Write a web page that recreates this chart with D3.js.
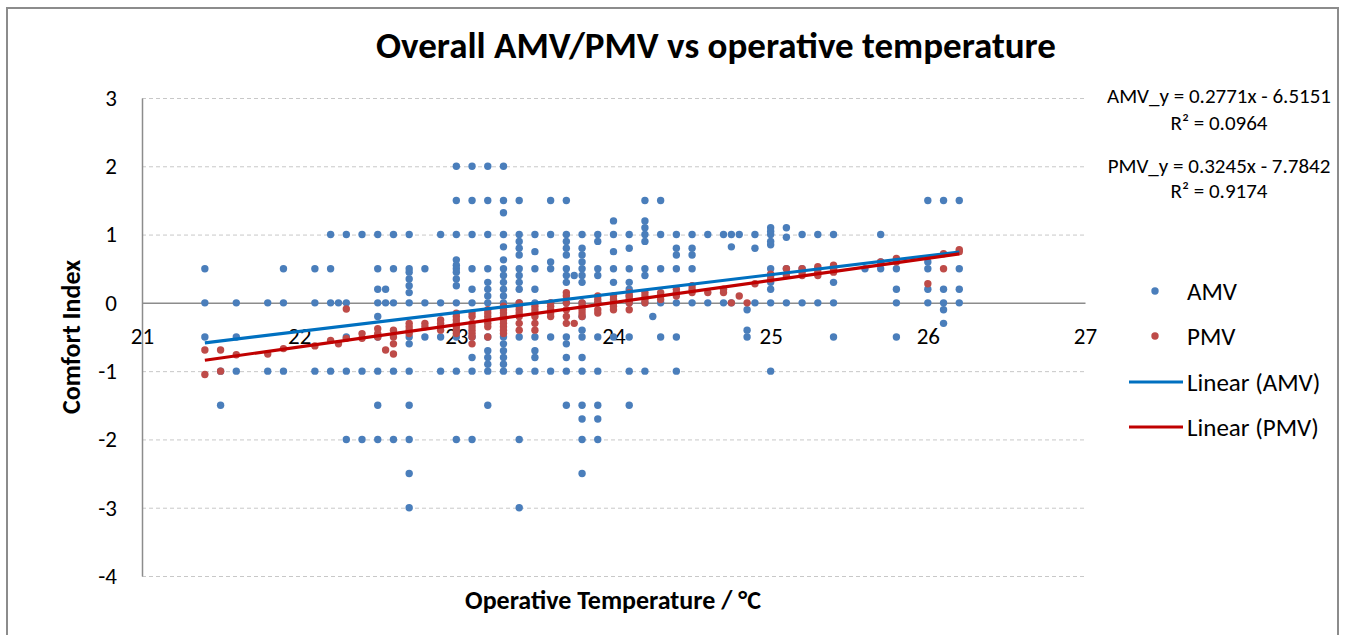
<!DOCTYPE html>
<html>
<head>
<meta charset="utf-8">
<script src="https://cdn.jsdelivr.net/npm/d3@7"></script>
<style>
  body { margin: 0; background: #fff; }
  svg { display: block; font-family: Calibri, Carlito, Lato, sans-serif; }
</style>
</head>
<body>
<div id="chart"></div>
<script>
// AMV votes per operative temperature
const amvData = [
  [21.4, [0.5, 0, -0.5]],
  [21.5, [-1, -1.5]],
  [21.6, [0, -0.5, -1]],
  [21.8, [0, -1]],
  [21.9, [0.5, 0, -1]],
  [22.1, [0.5, 0, -1]],
  [22.2, [1, 0.5, 0, -1]],
  [22.25, [0]],
  [22.3, [1, 0, -0.5, -1, -2]],
  [22.4, [1, -1, -2]],
  [22.5, [1, 0.5, 0.2, 0, -0.2, -0.5, -1, -1.5, -2]],
  [22.55, [0.2, 0]],
  [22.6, [1, 0.5, 0, -1, -2]],
  [22.7, [1, 0.5, 0.45, 0.35, 0.25, 0.15, 0, -0.5, -0.6, -1, -1.5, -2, -2.5, -3]],
  [22.8, [0.5, 0, -0.5]],
  [22.9, [1, 0, -0.5, -1]],
  [23.0, [2, 1.5, 1, 0.63, 0.55, 0.5, 0.45, 0.35, 0.25, 0, -0.5, -1, -2]],
  [23.1, [2, 1.5, 1, 0.5, 0.2, 0, -0.5, -0.8, -1, -2]],
  [23.2, [2, 1.5, 1, 0.5, 0.3, 0.2, 0.1, 0, -0.5, -0.7, -0.8, -0.9, -1, -1.5]],
  [23.3, [2, 1.5, 1.32, 1, 0.82, 0.63, 0.5, 0.4, 0.3, 0.2, 0.1, 0, -0.5, -0.6, -0.7, -0.8, -0.9, -1]],
  [23.4, [1.5, 1, 0.9, 0.8, 0.7, 0.5, 0.4, 0.3, 0.2, 0, -0.5, -1, -2, -3]],
  [23.5, [1, 0.75, 0.5, 0.2, 0, -0.5, -0.7, -0.8, -1]],
  [23.6, [1.5, 1, 0.6, 0.5, 0, -0.5, -1]],
  [23.7, [1.5, 1, 0.9, 0.8, 0.7, 0.5, 0.4, 0.3, 0, -0.5, -0.6, -0.8, -1, -1.5]],
  [23.75, [0.4]],
  [23.8, [1, 0.8, 0.7, 0.6, 0.5, 0.4, 0.3, 0, -0.2, -0.4, -0.5, -0.8, -1, -1.5, -1.7, -2, -2.5]],
  [23.9, [1, 0.9, 0.5, 0.4, 0, -0.5, -1, -1.5, -1.7, -2]],
  [24.0, [1.2, 1, 0.75, 0.5, 0.3, 0, -0.5]],
  [24.1, [1, 0.8, 0.5, 0.3, 0.2, 0.1, 0, -0.5, -1, -1.5]],
  [24.2, [1.5, 1.2, 1.1, 1, 0.9, 0.5, 0.4, 0, -1]],
  [24.25, [-0.2]],
  [24.3, [1.5, 1, 0.5, 0, -0.5]],
  [24.4, [1, 0.8, 0.7, 0.5, 0, -0.5, -1]],
  [24.5, [1, 0.8, 0.7, 0.5, 0]],
  [24.6, [1, 0]],
  [24.7, [1, 0]],
  [24.75, [1, 0.82, 0]],
  [24.8, [1]],
  [24.85, [-0.1, -0.4, -0.5]],
  [24.9, [1, 0.8, 0]],
  [25.0, [1.1, 1.05, 1, 0.9, 0.85, 0.5, 0.4, 0.3, 0.2, 0, -1]],
  [25.1, [1.1, 0.96, 0.5, 0]],
  [25.2, [1, 0.5, 0]],
  [25.3, [1, 0.5, 0]],
  [25.4, [1, 0.5, 0.3, 0, -0.5]],
  [25.6, [0.5]],
  [25.7, [1, 0.6, 0.5]],
  [25.8, [0.5, 0.2, 0, -0.5]],
  [26.0, [1.5, 0.6, 0.5, 0.2, 0]],
  [26.1, [1.5, 0.2, 0, -0.1, -0.3]],
  [26.2, [1.5, 0.5, 0.2, 0]]
];

// PMV values per operative temperature
const pmvData = [
  [21.4, [-0.69, -1.05]],
  [21.5, [-0.69, -1.0]],
  [21.6, [-0.76]],
  [21.8, [-0.75]],
  [21.9, [-0.67]],
  [22.1, [-0.63]],
  [22.2, [-0.55]],
  [22.25, [-0.6]],
  [22.3, [-0.09, -0.52]],
  [22.4, [-0.45, -0.52]],
  [22.5, [-0.38, -0.45, -0.5]],
  [22.55, [-0.69]],
  [22.6, [-0.4, -0.5, -0.6, -0.75]],
  [22.7, [-0.3, -0.35, -0.4, -0.45]],
  [22.8, [-0.3, -0.35]],
  [22.9, [-0.25, -0.3, -0.35, -0.4]],
  [23.0, [-0.15, -0.2, -0.25, -0.3, -0.35, -0.4, -0.45]],
  [23.1, [-0.15, -0.2, -0.3, -0.35, -0.4, -0.45, -0.5, -0.6]],
  [23.2, [-0.1, -0.15, -0.2, -0.25, -0.3, -0.35, -0.5]],
  [23.3, [-0.05, -0.1, -0.15, -0.2, -0.25, -0.3, -0.35, -0.4, -0.45]],
  [23.4, [0, -0.05, -0.1, -0.15, -0.2, -0.3, -0.4]],
  [23.5, [-0.05, -0.1, -0.15, -0.2, -0.3, -0.4]],
  [23.6, [0, -0.05, -0.1, -0.15, -0.2]],
  [23.7, [0.15, 0.1, 0, -0.1, -0.2, -0.3]],
  [23.75, [-0.3]],
  [23.8, [0, -0.05, -0.1, -0.15, -0.2]],
  [23.9, [0.1, 0.05, 0, -0.1, -0.15]],
  [24.0, [0.1, 0.05, 0, -0.05, -0.1]],
  [24.1, [0.15, 0.1, 0.05, 0, -0.1]],
  [24.2, [0.15, 0.1, 0.05, 0]],
  [24.3, [0.15, 0.1, 0.05]],
  [24.4, [0.2, 0.15, 0.1]],
  [24.5, [0.25, 0.2, 0.15]],
  [24.6, [0.15]],
  [24.7, [0.2, 0.15]],
  [24.75, [0]],
  [24.8, [0.1]],
  [24.85, [0]],
  [24.9, [0.28]],
  [25.0, [0.42, 0.35]],
  [25.1, [0.5, 0.4]],
  [25.2, [0.5, 0.45, 0.4]],
  [25.3, [0.53, 0.45, 0.4]],
  [25.4, [0.55, 0.5, 0.45]],
  [25.7, [0.6]],
  [25.8, [0.65, 0.6]],
  [26.0, [0.28]],
  [26.1, [0.72, 0.5]],
  [26.2, [0.78, 0.75]]
];

// trend line coefficients [slope, intercept] and R squared
const amvTrend = [0.2771, -6.5151, 0.0964];
const pmvTrend = [0.3245, -7.7842, 0.9174];

const xTicks = [21, 22, 23, 24, 25, 26, 27];
const yTicks = [-4, -3, -2, -1, 0, 1, 2, 3];

const width = 1348, height = 635;
const plot = { left: 142, right: 1085, top: 98, bottom: 576 };

const amvColor = "#4a7ebb", pmvColor = "#be4b48";
const amvLine = "#0070c0", pmvLine = "#c00000";
const font = "Calibri, Carlito, Lato, sans-serif";

const svg = d3.select("#chart").append("svg")
    .attr("width", width)
    .attr("height", height);

// outer chart frame
svg.append("rect")
    .attr("x", 7).attr("y", 8)
    .attr("width", 1331).attr("height", 650)
    .attr("fill", "#fff")
    .attr("stroke", "#8c8c8c")
    .attr("stroke-width", 2);

const x = d3.scaleLinear().domain([21, 27]).range([plot.left, plot.right]);
const y = d3.scaleLinear().domain([-4, 3]).range([plot.bottom, plot.top]);

// title
svg.append("text")
    .attr("x", 716).attr("y", 58)
    .attr("text-anchor", "middle")
    .attr("font-size", "37px")
    .attr("font-weight", "bold")
    .text("Overall AMV/PMV vs operative temperature");

// dashed gridlines
const grid = svg.append("g")
    .attr("transform", `translate(${plot.left},0)`)
    .call(d3.axisLeft(y).tickValues(yTicks.filter(d => d !== 0))
        .tickSize(-(plot.right - plot.left)).tickFormat(""));
grid.select(".domain").remove();
grid.selectAll(".tick line")
    .attr("stroke", "#c8c8c8")
    .attr("stroke-dasharray", "4,3");

// y axis
const yAxis = svg.append("g")
    .attr("transform", `translate(${plot.left},0)`)
    .call(d3.axisLeft(y).tickValues(yTicks).tickSize(0).tickPadding(25)
        .tickFormat(d => String(d)));
yAxis.select(".domain").attr("stroke", "#8c8c8c").attr("stroke-width", 1.5);
yAxis.selectAll("text")
    .attr("font-size", "23px")
    .attr("font-family", font)
    .attr("fill", "#000");

// x axis sits on y = 0
const xAxis = svg.append("g")
    .attr("transform", `translate(0,${y(0)})`)
    .call(d3.axisBottom(x).tickValues(xTicks).tickSize(0).tickPadding(25)
        .tickFormat(d => String(d)));
xAxis.select(".domain").attr("stroke", "#8c8c8c").attr("stroke-width", 1.5);
xAxis.selectAll("text")
    .attr("font-size", "23px")
    .attr("font-family", font)
    .attr("fill", "#000");

// axis titles
svg.append("text")
    .attr("transform", "translate(80,337) rotate(-90)")
    .attr("text-anchor", "middle")
    .attr("font-size", "26px")
    .attr("font-weight", "bold")
    .text("Comfort Index");

svg.append("text")
    .attr("x", 613).attr("y", 609)
    .attr("text-anchor", "middle")
    .attr("font-size", "26px")
    .attr("font-weight", "bold")
    .text("Operative Temperature / °C");

// points
const flat = data => data.flatMap(([t, vals]) => vals.map(v => ({ t, v })));
const amvPts = flat(amvData);
const pmvPts = flat(pmvData);

svg.append("g").selectAll("circle")
    .data(amvPts)
    .enter().append("circle")
    .attr("cx", d => x(d.t))
    .attr("cy", d => y(d.v))
    .attr("r", 3.7)
    .attr("fill", amvColor);

svg.append("g").selectAll("circle")
    .data(pmvPts)
    .enter().append("circle")
    .attr("cx", d => x(d.t))
    .attr("cy", d => y(d.v))
    .attr("r", 3.7)
    .attr("fill", pmvColor);

// linear trend lines over the data range
const line = d3.line().x(d => x(d[0])).y(d => y(d[1]));
const trendPath = (data, c) => {
    const ext = d3.extent(data, d => d[0]);
    return ext.map(t => [t, c[0] * t + c[1]]);
};

svg.append("path")
    .attr("d", line(trendPath(amvData, amvTrend)))
    .attr("stroke", amvLine)
    .attr("stroke-width", 3.2)
    .attr("fill", "none");

svg.append("path")
    .attr("d", line(trendPath(pmvData, pmvTrend)))
    .attr("stroke", pmvLine)
    .attr("stroke-width", 3.2)
    .attr("fill", "none");

// trend equations
const eqs = [
    [`AMV_y = ${amvTrend[0]}x - ${Math.abs(amvTrend[1])}`, 103],
    [`R² = ${amvTrend[2]}`, 130],
    [`PMV_y = ${pmvTrend[0]}x - ${Math.abs(pmvTrend[1])}`, 173],
    [`R² = ${pmvTrend[2]}`, 198]
];
svg.append("g").selectAll("text")
    .data(eqs)
    .enter().append("text")
    .attr("x", 1219)
    .attr("y", d => d[1])
    .attr("text-anchor", "middle")
    .attr("font-size", "21px")
    .text(d => d[0]);

// legend
const legend = [
    { label: "AMV", type: "dot", color: amvColor, y: 291 },
    { label: "PMV", type: "dot", color: pmvColor, y: 336 },
    { label: "Linear (AMV)", type: "line", color: amvLine, y: 382 },
    { label: "Linear (PMV)", type: "line", color: pmvLine, y: 427 }
];
const lg = svg.append("g");
legend.forEach(d => {
    if (d.type === "dot") {
        lg.append("circle").attr("cx", 1155).attr("cy", d.y).attr("r", 3.7).attr("fill", d.color);
    } else {
        lg.append("line").attr("x1", 1129).attr("x2", 1183)
            .attr("y1", d.y).attr("y2", d.y)
            .attr("stroke", d.color).attr("stroke-width", 3.2);
    }
    lg.append("text")
        .attr("x", 1187).attr("y", d.y)
        .attr("dy", "0.35em")
        .attr("font-size", "25px")
        .text(d.label);
});
</script>
</body>
</html>
